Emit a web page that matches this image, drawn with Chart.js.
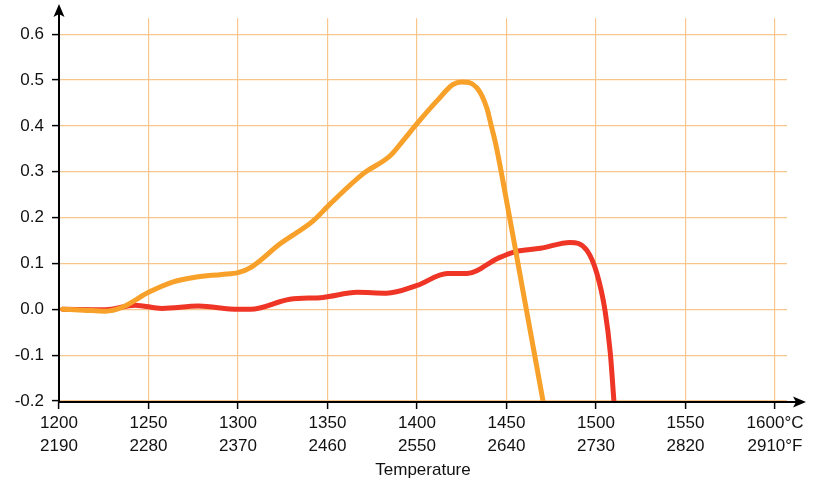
<!DOCTYPE html>
<html>
<head>
<meta charset="utf-8">
<script src="https://cdn.jsdelivr.net/npm/chart.js@4/dist/chart.umd.min.js"></script>
<style>
  html, body { margin: 0; padding: 0; background: #fff; }
  #wrap { width: 814px; height: 482px; }
</style>
</head>
<body>
<div id="wrap"><canvas id="chart" width="814" height="482"></canvas></div>
<script>
// tick labels
const xTicks = [1200, 1250, 1300, 1350, 1400, 1450, 1500, 1550, 1600];
const cLabels = ['1200', '1250', '1300', '1350', '1400', '1450', '1500', '1550', '1600°C'];
const fLabels = ['2190', '2280', '2370', '2460', '2550', '2640', '2730', '2820', '2910°F'];
const yTicks = [-0.2, -0.1, 0.0, 0.1, 0.2, 0.3, 0.4, 0.5, 0.6];

// orange curve (temperature °C, value)
const orangeT = [1202, 1214, 1226, 1235, 1250, 1263, 1276, 1291, 1300, 1307, 1323.5, 1342, 1351.5, 1370, 1385, 1392, 1400, 1411, 1420, 1425, 1433.5, 1439, 1441.5, 1444, 1448, 1459.2, 1470.4];
const orangeVal = [0.0, -0.002, -0.004, 0.004, 0.037, 0.059, 0.070, 0.076, 0.080, 0.091, 0.143, 0.193, 0.230, 0.296, 0.335, 0.367, 0.405, 0.454, 0.490, 0.496, 0.483, 0.439, 0.400, 0.360, 0.280, 0.040, -0.2];

// red curve
const redT = [1202, 1226, 1242.5, 1257.5, 1278, 1300, 1307, 1329, 1347.5, 1366.5, 1383, 1400, 1417, 1428, 1445, 1455, 1469, 1485.5, 1495, 1500.5, 1505, 1508, 1510];
const redVal = [0.0, -0.001, 0.009, 0.002, 0.007, 0.0, 0.0, 0.022, 0.026, 0.037, 0.035, 0.052, 0.078, 0.078, 0.111, 0.126, 0.133, 0.146, 0.128, 0.078, -0.002, -0.096, -0.2];

const toPoints = (xs, ys) => xs.map((x, i) => ({ x: x, y: ys[i] }));

const gridColor = '#F8C68C';
const fontFamily = '"Liberation Sans", Arial, Helvetica, sans-serif';

// black axes with arrow heads
const axisArrows = {
    id: 'axisArrows',
    afterDraw(chart) {
        const ctx = chart.ctx;
        const x0 = chart.scales.x.left;
        const y0 = chart.scales.y.bottom + 1;
        ctx.save();
        ctx.strokeStyle = '#000';
        ctx.fillStyle = '#000';
        ctx.lineWidth = 2;
        ctx.beginPath();
        ctx.moveTo(x0, y0);
        ctx.lineTo(x0, 12);
        ctx.moveTo(x0 - 1, y0);
        ctx.lineTo(800, y0);
        ctx.stroke();
        // up arrow
        ctx.beginPath();
        ctx.moveTo(x0, 4);
        ctx.lineTo(x0 + 5.5, 17);
        ctx.lineTo(x0, 14);
        ctx.lineTo(x0 - 5.5, 17);
        ctx.closePath();
        ctx.fill();
        // right arrow
        ctx.beginPath();
        ctx.moveTo(806, y0);
        ctx.lineTo(793, y0 - 5.5);
        ctx.lineTo(796, y0);
        ctx.lineTo(793, y0 + 5.5);
        ctx.closePath();
        ctx.fill();
        ctx.restore();
    }
};

document.addEventListener('DOMContentLoaded', function(){
    const ctx = document.getElementById('chart');
    const chart = new Chart(ctx, {
        type: 'line',
        data: {
            datasets: [{
                data: toPoints(orangeT, orangeVal),
                borderColor: '#F7A12A',
                borderWidth: 5,
                pointRadius: 0,
                cubicInterpolationMode: 'monotone',
                borderCapStyle: 'round',
                borderJoinStyle: 'round'
            }, {
                data: toPoints(redT, redVal),
                borderColor: '#EE3526',
                borderWidth: 5,
                pointRadius: 0,
                cubicInterpolationMode: 'monotone',
                borderCapStyle: 'round',
                borderJoinStyle: 'round'
            }]
        },
        options: {
            responsive: false,
            animation: false,
            layout: { padding: { top: 17, right: 27, left: 0, bottom: 0 } },
            plugins: {
                legend: { display: false },
                tooltip: { enabled: false }
            },
            scales: {
                x: {
                    type: 'linear',
                    min: 1200,
                    max: 1606.7,
                    afterBuildTicks: (scale) => { scale.ticks = xTicks.map(v => ({ value: v })); },
                    afterFit: (scale) => { scale.height = 81; },
                    border: { display: false },
                    grid: {
                        color: gridColor,
                        lineWidth: 1.2,
                        tickColor: '#000',
                        tickLength: 8,
                        tickWidth: 1.5
                    },
                    ticks: {
                        autoSkip: false,
                        maxRotation: 0,
                        padding: 2,
                        color: '#111',
                        font: { family: fontFamily, size: 17, lineHeight: 1.4 },
                        callback: (value, index) => [cLabels[index], fLabels[index]]
                    },
                    title: {
                        display: true,
                        text: 'Temperature',
                        color: '#111',
                        padding: { top: 0, bottom: 1 },
                        font: { family: fontFamily, size: 17 }
                    }
                },
                y: {
                    min: -0.2,
                    max: 0.635,
                    afterBuildTicks: (scale) => { scale.ticks = yTicks.map(v => ({ value: v })); },
                    afterFit: (scale) => { scale.width = 59; },
                    border: { display: false },
                    grid: {
                        color: gridColor,
                        lineWidth: 1.2,
                        tickColor: '#000',
                        tickLength: 7,
                        tickWidth: 1.5
                    },
                    ticks: {
                        padding: 8,
                        color: '#111',
                        font: { family: fontFamily, size: 17 },
                        callback: (value) => value.toFixed(1)
                    }
                }
            }
        },
        plugins: [axisArrows]
    });
});
</script>
</body>
</html>
